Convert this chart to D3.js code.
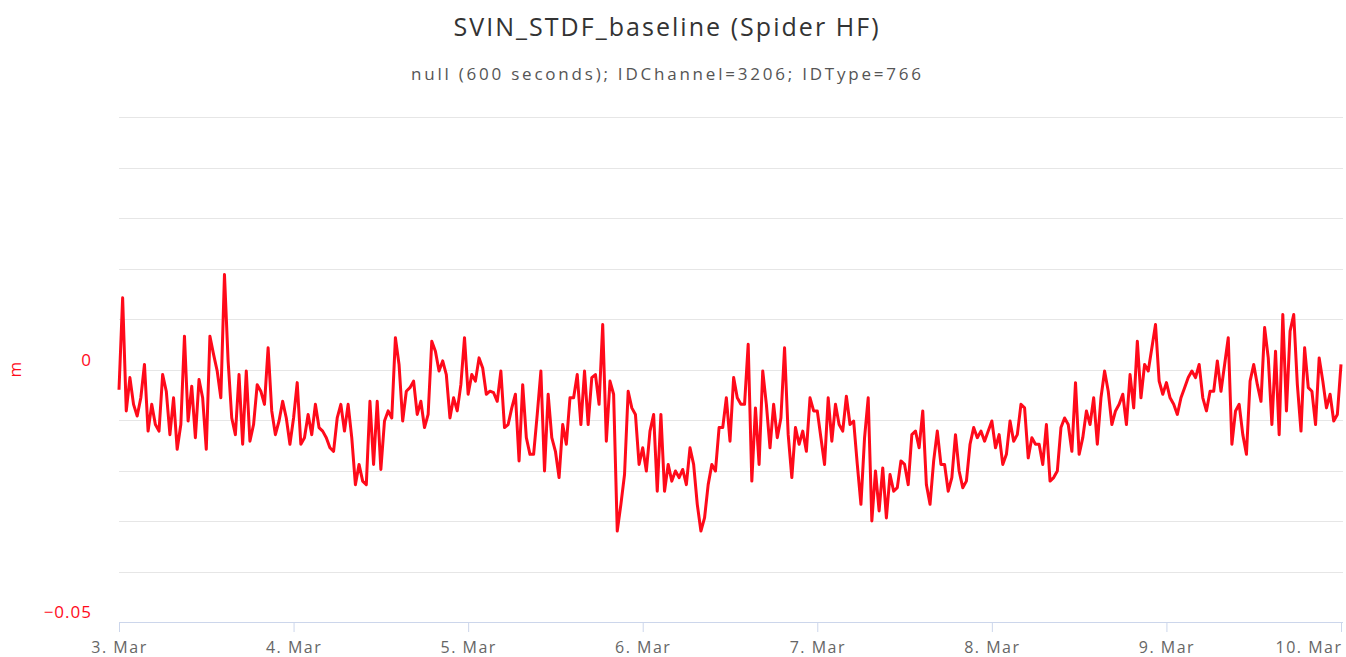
<!DOCTYPE html>
<html>
<head>
<meta charset="utf-8">
<script src="https://cdn.jsdelivr.net/npm/d3@7/dist/d3.min.js"></script>
<style>
  body { margin: 0; background: #fff; }
  svg { display: block; }
  text { font-family: "Open Sans", "DejaVu Sans", sans-serif; }
</style>
</head>
<body>
<div class="chart"></div>
<script>
// values every 30 minutes, one array per day (metres)
var mar3 = [-0.0040, 0.0142, -0.0082, -0.0016, -0.0069, -0.0092, -0.0056, 0.0010, -0.0122, -0.0069, -0.0109, -0.0122,
    -0.0010, -0.0043, -0.0129, -0.0056, -0.0158, -0.0109, 0.0066, -0.0102, -0.0033, -0.0135, -0.0020, -0.0056,
    -0.0158, 0.0066, 0.0030, -0.0003, -0.0056, 0.0188, 0.0017, -0.0096, -0.0129, -0.0010, -0.0148, -0.0003,
    -0.0142, -0.0109, -0.0030, -0.0043, -0.0069, 0.0043, -0.0082, -0.0129, -0.0102, -0.0063, -0.0096, -0.0148];
var mar4 = [-0.0096, -0.0026, -0.0148, -0.0135, -0.0089, -0.0129, -0.0069, -0.0115, -0.0122, -0.0135, -0.0155, -0.0162,
    -0.0096, -0.0069, -0.0122, -0.0069, -0.0135, -0.0228, -0.0188, -0.0221, -0.0228, -0.0063, -0.0188, -0.0063,
    -0.0198, -0.0102, -0.0082, -0.0096, 0.0063, 0.0010, -0.0102, -0.0043, -0.0036, -0.0023, -0.0089, -0.0063,
    -0.0115, -0.0089, 0.0056, 0.0036, -0.0003, 0.0017, -0.0010, -0.0096, -0.0056, -0.0082, -0.0030, 0.0063];
var mar5 = [-0.0049, -0.0010, -0.0023, 0.0023, 0.0003, -0.0049, -0.0043, -0.0046, -0.0063, -0.0003, -0.0115, -0.0109,
    -0.0076, -0.0049, -0.0181, -0.0030, -0.0135, -0.0168, -0.0168, -0.0089, -0.0003, -0.0201, -0.0049, -0.0135,
    -0.0162, -0.0214, -0.0109, -0.0148, -0.0056, -0.0056, -0.0010, -0.0109, -0.0003, -0.0109, -0.0016, -0.0010,
    -0.0069, 0.0089, -0.0142, -0.0023, -0.0049, -0.0320, -0.0267, -0.0208, -0.0043, -0.0076, -0.0089, -0.0188];
var mar6 = [-0.0155, -0.0201, -0.0122, -0.0089, -0.0241, -0.0089, -0.0241, -0.0188, -0.0221, -0.0201, -0.0214, -0.0198,
    -0.0228, -0.0155, -0.0188, -0.0267, -0.0320, -0.0294, -0.0228, -0.0188, -0.0201, -0.0115, -0.0115, -0.0056,
    -0.0142, -0.0016, -0.0056, -0.0069, -0.0069, 0.0050, -0.0221, -0.0076, -0.0188, -0.0003, -0.0069, -0.0155,
    -0.0069, -0.0135, -0.0096, 0.0043, -0.0129, -0.0214, -0.0115, -0.0148, -0.0122, -0.0162, -0.0056, -0.0082];
var mar7 = [-0.0082, -0.0135, -0.0188, -0.0056, -0.0142, -0.0069, -0.0109, -0.0122, -0.0053, -0.0109, -0.0102, -0.0188,
    -0.0267, -0.0135, -0.0056, -0.0300, -0.0201, -0.0280, -0.0195, -0.0294, -0.0208, -0.0241, -0.0234, -0.0181,
    -0.0188, -0.0228, -0.0129, -0.0122, -0.0155, -0.0082, -0.0228, -0.0267, -0.0181, -0.0122, -0.0188, -0.0188,
    -0.0241, -0.0214, -0.0129, -0.0201, -0.0234, -0.0221, -0.0148, -0.0115, -0.0135, -0.0122, -0.0142, -0.0122];
var mar8 = [-0.0102, -0.0155, -0.0129, -0.0188, -0.0168, -0.0102, -0.0142, -0.0129, -0.0069, -0.0076, -0.0175, -0.0135,
    -0.0148, -0.0148, -0.0188, -0.0109, -0.0221, -0.0214, -0.0201, -0.0115, -0.0096, -0.0109, -0.0162, -0.0026,
    -0.0168, -0.0135, -0.0082, -0.0109, -0.0056, -0.0148, -0.0056, -0.0003, -0.0043, -0.0109, -0.0082, -0.0069,
    -0.0049, -0.0109, -0.0010, -0.0076, 0.0056, -0.0056, 0.0010, -0.0003, 0.0043, 0.0089, -0.0023, -0.0049];
var mar9 = [-0.0026, -0.0056, -0.0069, -0.0089, -0.0056, -0.0036, -0.0016, -0.0003, -0.0016, 0.0010, -0.0056, -0.0082,
    -0.0043, -0.0043, 0.0017, -0.0043, 0.0010, 0.0063, -0.0148, -0.0082, -0.0069, -0.0129, -0.0168, -0.0023,
    0.0010, -0.0030, -0.0063, 0.0083, 0.0023, -0.0109, 0.0036, -0.0129, 0.0109, -0.0082, 0.0076, 0.0109,
    -0.0030, -0.0122, 0.0043, -0.0036, -0.0043, -0.0109, 0.0023, -0.0023, -0.0076, -0.0049, -0.0102, -0.0089,
    0.0010];

var days = [mar3, mar4, mar5, mar6, mar7, mar8, mar9];
var startDate = Date.UTC(2020, 2, 3);
var stepMs = 30 * 60 * 1000;
var yLabels = [0, -0.05];

var title = "SVIN_STDF_baseline (Spider HF)";
var subtitle = "null (600 seconds); IDChannel=3206; IDType=766";
var axisTitle = "m";

var width = 1346, height = 657;
var red = "#ff0a1a";

var values = [].concat.apply([], days);
var data = values.map(function(v, i) {
    return { t: new Date(startDate + i * stepMs), v: v };
});

var svg = d3.select(".chart").append("svg")
    .attr("width", width)
    .attr("height", height);

var x = d3.scaleUtc()
    .domain([new Date(startDate), new Date(startDate + 7 * 864e5)])
    .range([119, 1341]);

var y = d3.scaleLinear()
    .domain([-0.05, 0.05])
    .range([622, 117]);

// titles (the original font runs wider, so stretch to its width)
svg.append("text")
    .attr("x", 666).attr("y", 36)
    .attr("text-anchor", "middle")
    .attr("textLength", 425)
    .attr("lengthAdjust", "spacing")
    .style("font-size", "25px")
    .style("fill", "#333")
    .text(title);

svg.append("text")
    .attr("x", 666).attr("y", 80)
    .attr("text-anchor", "middle")
    .attr("textLength", 510)
    .attr("lengthAdjust", "spacing")
    .style("font-size", "17px")
    .style("fill", "#555")
    .text(subtitle);

// grid
svg.append("g")
    .selectAll("line")
    .data(y.ticks(10).filter(function(d) { return d > -0.05; }))
    .enter().append("line")
    .attr("x1", 119).attr("x2", 1343)
    .attr("y1", function(d) { return Math.round(y(d)) + 0.5; })
    .attr("y2", function(d) { return Math.round(y(d)) + 0.5; })
    .style("stroke", "#e6e6e6");

// y labels, drawn a bit above their lines like the original
svg.append("g")
    .selectAll("text")
    .data(yLabels)
    .enter().append("text")
    .attr("x", 92)
    .attr("y", function(d) { return y(d) - 4; })
    .attr("text-anchor", "end")
    .style("font-size", "17px")
    .style("letter-spacing", "1px")
    .style("fill", red)
    .text(function(d) { return d === 0 ? "0" : d3.format(".2f")(d).replace("-", "\u2212"); });

svg.append("text")
    .attr("transform", "translate(21," + y(0) + ") rotate(-90)")
    .attr("text-anchor", "middle")
    .style("font-size", "17px")
    .style("fill", red)
    .text(axisTitle);

// x axis
var xAxis = svg.append("g")
    .attr("transform", "translate(0,622)")
    .call(d3.axisBottom(x)
        .ticks(d3.utcDay.every(1))
        .tickSize(10)
        .tickFormat(function(d) { return d.getUTCDate() + ". Mar"; }));

xAxis.select("path.domain").remove();
xAxis.selectAll("line").style("stroke", "#ccd6eb");
xAxis.selectAll("text")
    .attr("y", 20)
    .style("font-size", "16px")
    .style("letter-spacing", "1.5px")
    .style("fill", "#666")
    .style("font-family", "\"Open Sans\", sans-serif");
// last label kept inside the chart
xAxis.selectAll(".tick").filter(function(d, i, n) { return i === n.length - 1; })
    .select("text")
    .attr("text-anchor", "end")
    .attr("x", 1);

svg.append("line")
    .attr("x1", 119).attr("x2", 1343)
    .attr("y1", 622.5).attr("y2", 622.5)
    .style("stroke", "#ccd6eb");

// series
var line = d3.line()
    .x(function(d) { return x(d.t); })
    .y(function(d) { return y(d.v); });

svg.append("path")
    .datum(data)
    .attr("d", line)
    .style("fill", "none")
    .style("stroke", red)
    .style("stroke-width", 3)
    .style("stroke-linejoin", "round");
</script>
</body>
</html>
